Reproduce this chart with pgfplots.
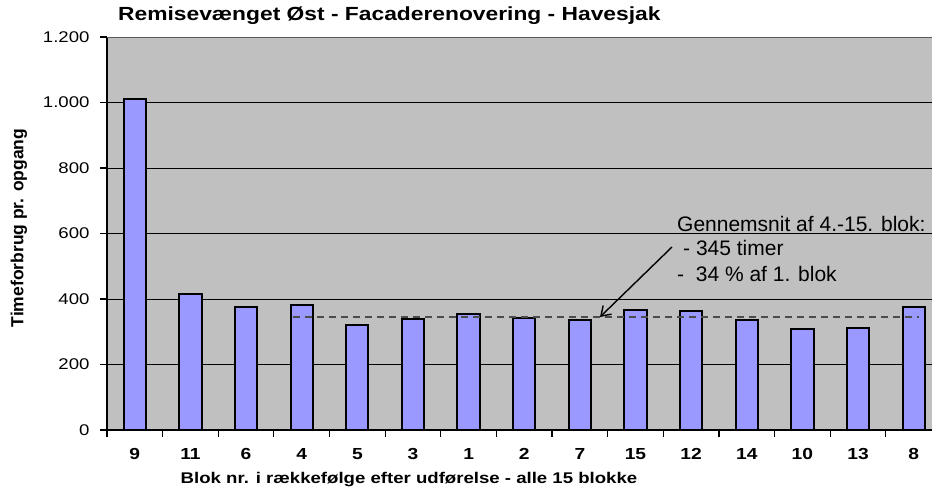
\documentclass[border=0pt]{standalone}
\usepackage{pgfplots}
\pgfplotsset{compat=1.18}
\usepackage{fontspec}
\setmainfont{Liberation Sans}[FakeStretch=1.2]
\newfontfamily\plainfont{Liberation Sans}
\usetikzlibrary{arrows.meta}
\definecolor{plotgray}{HTML}{C0C0C0}
\definecolor{barblue}{HTML}{9999FF}
\begin{document}
\begin{tikzpicture}
\useasboundingbox (0,0) rectangle (932pt,489pt);
\begin{axis}[
  at={(107pt,59pt)}, anchor=south west,
  scale only axis, width=825pt, height=393pt,
  xmin=-0.5, xmax=14.33, ymin=0, ymax=1200,
  axis x line*=bottom, axis y line*=left,
  axis line style={black, line width=1.4pt, -},
  axis background/.style={fill=plotgray},
  ytick={0,200,...,1000}, yticklabels={0,200,400,600,800,{1.000}},
  extra y ticks={1200}, extra y tick labels={{1.200}},
  extra y tick style={grid=major, major grid style={color=gray!70!black, line width=0.9pt}},
  ymajorgrids, major grid style={black, line width=0.9pt},
  xtick={0,...,14}, xticklabels={9,11,6,4,5,3,1,2,7,15,12,14,10,13,8},
  xtick style={draw=none},
  ytick style={black, line width=1.1pt},
  tick align=outside, major tick length=7pt,
  /pgf/number format/assume math mode=true,
  tick label style={font=\fontsize{15.5}{18}\selectfont, black},
  yticklabel style={xshift=-7pt},
  xticklabel style={font=\bfseries\fontsize{16}{19}\selectfont, yshift=-8pt},
  clip=false,
]
\addplot[ybar, bar width=0.4, fill=barblue, draw=black, line width=2pt]
  coordinates {(0,1011) (1,416) (2,377) (3,381) (4,321) (5,340) (6,353) (7,343)
               (8,335) (9,367) (10,362) (11,335) (12,307) (13,312) (14,376)};
\addplot[sharp plot, color=gray!60!black, line width=1.2pt, dash pattern=on 7pt off 5pt]
  coordinates {(2.85,345) (14.1,345)};
\pgfplotsinvokeforeach{-0.5,0.5,1.5,2.5,3.5,4.5,5.5,6.5,7.5,8.5,9.5,10.5,11.5,12.5,13.5}{
  \draw[black, line width=1.2pt] (axis cs:#1,0) -- ++(0pt,-7pt);
}
\end{axis}
\node[anchor=base west, inner sep=0pt, font=\bfseries\fontsize{19}{22}\selectfont] at (118pt,468pt) {Remisevænget Øst - Facaderenovering - Havesjak};
\node[anchor=base, inner sep=0pt, font=\bfseries\fontsize{15.5}{18}\selectfont] at (409pt,5pt) {Blok nr. i rækkefølge efter udførelse - alle 15 blokke};
\node[rotate=90, anchor=center, inner sep=0pt, font=\plainfont\bfseries\fontsize{17.5}{20}\selectfont] at (19pt,261pt) {Timeforbrug pr. opgang};
\node[anchor=base west, inner sep=0pt, font=\plainfont\fontsize{21}{25}\selectfont] at (677pt,257pt) {Gennemsnit af 4.-15. blok:};
\node[anchor=base west, inner sep=0pt, font=\plainfont\fontsize{21}{25}\selectfont] at (683pt,233pt) {- 345 timer};
\node[anchor=base west, inner sep=0pt, font=\plainfont\fontsize{21}{25}\selectfont] at (677pt,207pt) {-\ \ 34 \% af 1. blok};
\draw[black, line width=1.4pt, -{Straight Barb[length=9pt,width=12pt]}] (672pt,242pt) -- (600pt,172pt);
\end{tikzpicture}
\end{document}
